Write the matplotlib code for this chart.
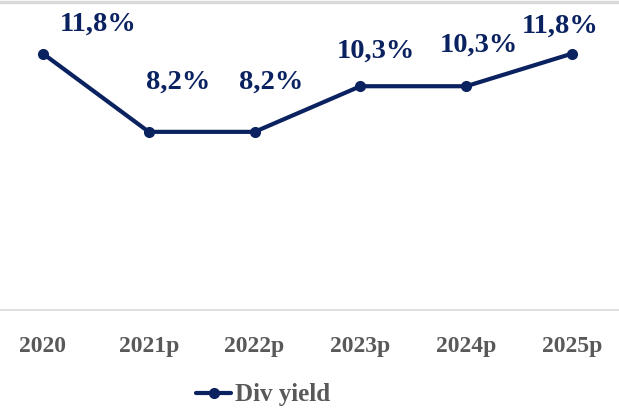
import matplotlib.pyplot as plt

# data
years = ["2020", "2021p", "2022p", "2023p", "2024p", "2025p"]
div_yield = [11.8, 8.2, 8.2, 10.3, 10.3, 11.8]
labels = ["11,8%", "8,2%", "8,2%", "10,3%", "10,3%", "11,8%"]

NAVY = "#0b2260"
GREY = "#595959"

plt.rcParams['font.family'] = ['Liberation Serif', 'DejaVu Serif']

fig = plt.figure(figsize=(6.19, 4.09), dpi=100)
ax = fig.add_axes([0, 1 - 310 / 409, 1, (310 - 1.5) / 409])

x = list(range(len(years)))
line, = ax.plot(x, div_yield, color=NAVY, linewidth=3, marker='o', markersize=7,
                label='Div yield', solid_capstyle='round')

# label offsets in pixels (dx, dy) relative to the point
offsets = [(55, 29), (29, 50), (17, 50), (15, 35), (13, 41), (-12, 27)]
for xi, yi, lab, (dx, dy) in zip(x, div_yield, labels, offsets):
    ax.annotate(lab, (xi, yi), xytext=(dx * 0.72, dy * 0.72), textcoords='offset points',
                ha='center', va='center', fontsize=20.5, fontweight='bold', color=NAVY)

ax.set_xlim(-43 / 105.8, 5 + 47 / 105.8)
ax.set_ylim(0, 14.2)
ax.set_yticks([])
ax.set_xticks(x)
ax.set_xticklabels(years, fontsize=17, fontweight='bold', color=GREY)
ax.tick_params(axis='x', length=0, pad=19)

for side in ['left', 'right']:
    ax.spines[side].set_visible(False)
ax.spines['bottom'].set_color('#d9d9d9')
ax.spines['bottom'].set_linewidth(1.2)
ax.spines['top'].set_color('#d9d9d9')
ax.spines['top'].set_linewidth(2.5)

leg = fig.legend(handles=[line], loc='center', bbox_to_anchor=(263 / 619, 1 - 395 / 409),
                 frameon=False, handlelength=1.4, handletextpad=0.15,
                 prop={'family': 'Liberation Serif', 'weight': 'bold', 'size': 18})
for t in leg.get_texts():
    t.set_color(GREY)

fig.savefig("out.png", dpi=100)
